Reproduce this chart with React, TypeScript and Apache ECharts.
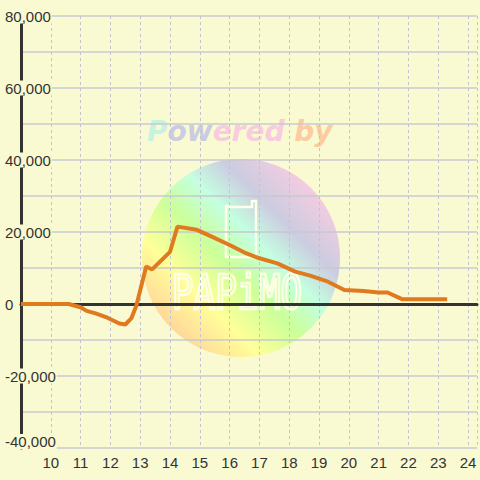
import React, { useEffect, useRef } from "react";
import * as echarts from "echarts";

const hours = [9, 10, 10.6, 11.0, 11.2, 11.5, 11.9, 12.3, 12.5, 12.7, 12.87, 13.2, 13.4, 14.0, 14.25, 14.9, 15.4, 16.0, 16.5, 17.0, 17.6, 18.2, 18.7, 19.3, 19.85, 20.5, 21.0, 21.3, 21.8, 23.3];
const values = [0, 0, 0, -900, -1900, -2600, -3800, -5400, -5700, -4000, -500, 10400, 9600, 14500, 21500, 20600, 18700, 16400, 14300, 12700, 11300, 9000, 7900, 6200, 3900, 3600, 3200, 3200, 1300, 1300];

const X_MIN = 9;
const X_MAX = 24.3;
const Y_MIN = -40000;
const Y_MAX = 80000;
const BG = "#FAFAD2";
const FONT = "'Liberation Sans', Arial, sans-serif";

export default function App() {
  const ref = useRef<HTMLDivElement>(null);
  useEffect(() => {
    if (!ref.current) return;
    const chart = echarts.init(ref.current, null, { renderer: "svg" });
    const data = hours.map((h, i) => [h, values[i]]);
    const option: any = {
      animation: false,
      backgroundColor: BG,
      grid: { left: 21, right: 0, top: 16, bottom: 32 },
      graphic: [
        {
          type: "circle",
          z: -1,
          shape: { cx: 241, cy: 258, r: 99 },
          style: {
            fill: new echarts.graphic.LinearGradient(0, 1, 1, 0, [
              { offset: 0.1, color: "#FFCC99" },
              { offset: 0.3, color: "#FFFF99" },
              { offset: 0.45, color: "#CCFF99" },
              { offset: 0.58, color: "#C4FFE0" },
              { offset: 0.7, color: "#CCCCE0" },
              { offset: 0.9, color: "#FFCCE0" },
            ]),
          },
        },
        {
          type: "text",
          z: -1,
          x: 147,
          y: 117,
          style: {
            text: "{a|P}{b|ow}{c|ered }{d|by}",
            font: "italic bold 28px 'DejaVu Sans', sans-serif",
            rich: {
              a: { fill: "#C6F2E0", font: "italic bold 28px 'DejaVu Sans', sans-serif" },
              b: { fill: "#CACCE2", font: "italic bold 28px 'DejaVu Sans', sans-serif" },
              c: { fill: "#F8CCDE", font: "italic bold 28px 'DejaVu Sans', sans-serif" },
              d: { fill: "#FDCBA0", font: "italic bold 28px 'DejaVu Sans', sans-serif" },
            },
          },
        },
        {
          type: "polyline",
          z: -1,
          shape: {
            points: [
              [226, 205], [226, 257], [256, 257], [256, 201], [252, 201], [252, 207], [229, 207], [226, 205],
            ],
          },
          style: { stroke: "#FFFFE6", lineWidth: 2.5, fill: "none" },
        },
        {
          type: "text",
          z: -1,
          x: 172,
          y: 268,
          scaleY: 1.35,
          style: {
            text: "PAPiMO",
            font: "36px 'DejaVu Sans Mono', monospace",
            fill: "none",
            stroke: "#FFFFE6",
            lineWidth: 2,
          },
        },
      ],
      xAxis: [
        {
          type: "value",
          min: X_MIN,
          max: X_MAX,
          interval: 1,
          position: "bottom",
          axisLine: { show: false, onZero: false },
          axisTick: { show: false },
          axisLabel: {
            color: "#333",
            fontSize: 15,
            fontFamily: FONT,
            margin: 7,
            formatter: (v: number) => (Number.isInteger(v) && v >= 10 ? String(v) : ""),
          },
          splitLine: { show: true, lineStyle: { color: "#C4C4CC", type: [3, 3], width: 1 } },
        },
        {
          type: "value",
          min: X_MIN,
          max: X_MAX,
          interval: 1,
          position: "top",
          axisLine: { show: true, onZero: true, lineStyle: { color: "#333", width: 3 } },
          axisTick: { show: false },
          axisLabel: { show: false },
          splitLine: { show: false },
        },
      ],
      yAxis: [
        {
          type: "value",
          min: Y_MIN,
          max: Y_MAX,
          interval: 10000,
          axisLine: { show: false },
          axisTick: { show: false },
          axisLabel: { show: false },
          splitLine: { show: true, lineStyle: { color: "#C8C8D0", width: 1.5 } },
        },
        {
          type: "value",
          min: Y_MIN,
          max: Y_MAX,
          interval: 20000,
          position: "left",
          axisLine: { show: true, lineStyle: { color: "#333", width: 3 } },
          axisTick: { show: false },
          splitLine: { show: false },
          axisLabel: {
            color: "#333",
            fontSize: 15,
            fontFamily: FONT,
            align: "left",
            margin: 16,
            formatter: (v: number) => {
              const s = v.toLocaleString("en-US");
              return v === Y_MIN ? `{n|${s}}\n{sp|}` : `{n|${s}}`;
            },
            rich: {
              n: {
                color: "#333",
                fontSize: 15,
                fontFamily: FONT,
                backgroundColor: BG,
                lineHeight: 17,
                padding: [0, 1, 0, 0],
              },
              sp: { lineHeight: 13, fontSize: 1 },
            },
          },
        },
      ],
      series: [
        {
          type: "line",
          xAxisIndex: 0,
          yAxisIndex: 0,
          data,
          showSymbol: false,
          symbol: "none",
          z: 5,
          lineStyle: { color: "#DF7A1F", width: 4 },
        },
      ],
    };
    chart.setOption(option);
    return () => chart.dispose();
  }, []);
  return (
    <div
      ref={ref}
      style={{ position: "fixed", left: 0, top: 0, width: 480, height: 480 }}
    />
  );
}
